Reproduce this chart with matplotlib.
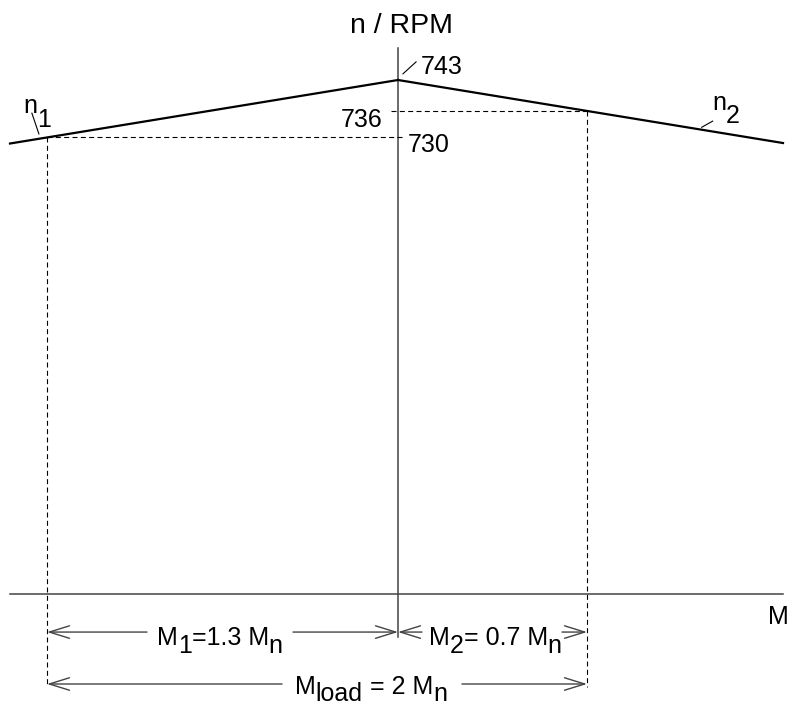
import numpy as np
import matplotlib
matplotlib.use('Agg')
import matplotlib.pyplot as plt

plt.rcParams['font.family'] = ['Liberation Sans', 'DejaVu Sans']

# torque in units of M_n, speed in RPM
M1 = 1.3            # M_1 = 1.3 M_n (left machine)
M2 = 0.7            # M_2 = 0.7 M_n (right machine)
n0 = 743            # no-load speed
n1 = 730            # speed of machine 1 at load
n2 = 736            # speed of machine 2 at load
M_range = [-1.437, 1.426]   # drawn extent of the characteristics

# characteristic lines
x_left = np.array([M_range[0], 0.0])
y_left = n0 + (n0 - n1) / M1 * x_left
x_right = np.array([0.0, M_range[1]])
y_right = n0 - (n0 - n2) / M2 * x_right

# layout (speed axis is broken, M axis drawn at n_axis)
n_axis = 626.7
n_row1 = 618.1
n_row2 = 606.35
n_dash_end = 605.7
n_vtop = 750.2
n_vbot = 617.0

fig = plt.figure(figsize=(7.89, 7.11), dpi=100)
ax = fig.add_axes([0, 0, 1, 1])
ax.set_xlim(-398 / 270, 391 / 270)
ax.set_ylim(743 - 631 / 4.42, 743 + 80 / 4.42)
ax.axis('off')

FS = 18
axis_col = '#444444'

# axes
ax.plot(M_range, [n_axis, n_axis], color=axis_col, lw=1.1)
ax.plot([0, 0], [n_vbot, n_vtop], color=axis_col, lw=1.1)

# characteristics
ax.plot(x_left, y_left, color='black', lw=1.6)
ax.plot(x_right, y_right, color='black', lw=1.6)

# dashed helper lines
ds = dict(color='black', lw=0.8, linestyle=(0, (4.5, 3)))
ax.plot([-M1, 0.0185], [n1, n1], **ds)
ax.plot([-M1, -M1], [n1, n_dash_end], **ds)
ax.plot([-0.026, M2], [n2, n2], **ds)
ax.plot([M2, M2], [n2, n_dash_end], **ds)

# tick labels
ax.text(0.012, 753.6, 'n / RPM', fontsize=20.5, ha='center', va='baseline')
ax.text(0.085, 744.4, str(n0), fontsize=FS, ha='left', va='baseline')
ax.plot([0.0185, 0.067], [744.4, 747.1], color='black', lw=0.8)
ax.text(-0.059, 732.4, str(n2), fontsize=FS, ha='right', va='baseline')
ax.text(0.037, 726.7, str(n1), fontsize=FS, ha='left', va='baseline')
ax.text(1.407, 621.5, 'M', fontsize=FS, ha='center', va='center')


def label(x, y, pieces):
    prev = ax.text(x, y, pieces[0][0], fontsize=FS, ha='left', va='baseline')
    prev_off = pieces[0][1]
    for s, off in pieces[1:]:
        prev = ax.annotate(s, xy=(1, 0), xycoords=prev,
                           xytext=(0, off - prev_off), textcoords='offset points',
                           fontsize=FS, ha='left', va='bottom')
        prev_off = off


# curve labels
label(-1.389, 735.5, [('n', 0), ('1', -10)])
ax.plot([-1.356, -1.330], [735.5, 730.8], color='black', lw=0.8)
label(1.163, 736.2, [('n', 0), ('2', -9.5)])
ax.plot([1.1655, 1.1248], [733.7, 732.3], color='black', lw=0.8)

# dimension arrows
ap = dict(arrowstyle='->,head_length=1.45,head_width=0.45', color=axis_col,
          lw=1.0, shrinkA=0, shrinkB=0, mutation_scale=10)


def dim(x_from, x_to, y):
    ax.annotate('', xy=(x_to, y), xytext=(x_from, y), arrowprops=ap)


dim(-0.9296, -M1, n_row1)
dim(-0.3889, 0, n_row1)
dim(0.0889, 0, n_row1)
dim(0.6074, M2, n_row1)
dim(-0.4296, -M1, n_row2)
dim(0.237, M2, n_row2)

d = -5.5
label(-0.8926, n_row1 - 2.9, [('M', 0), ('1', d), ('=1.3 M', 0), ('n', d)])
label(0.1148, n_row1 - 2.9, [('M', 0), ('2', d), ('= 0.7 M', 0), ('n', d)])
label(-0.3815, n_row2 - 2.2, [('M', 0), ('load', d), (' = 2 M', 0), ('n', d)])

fig.savefig('out.png', dpi=100)
